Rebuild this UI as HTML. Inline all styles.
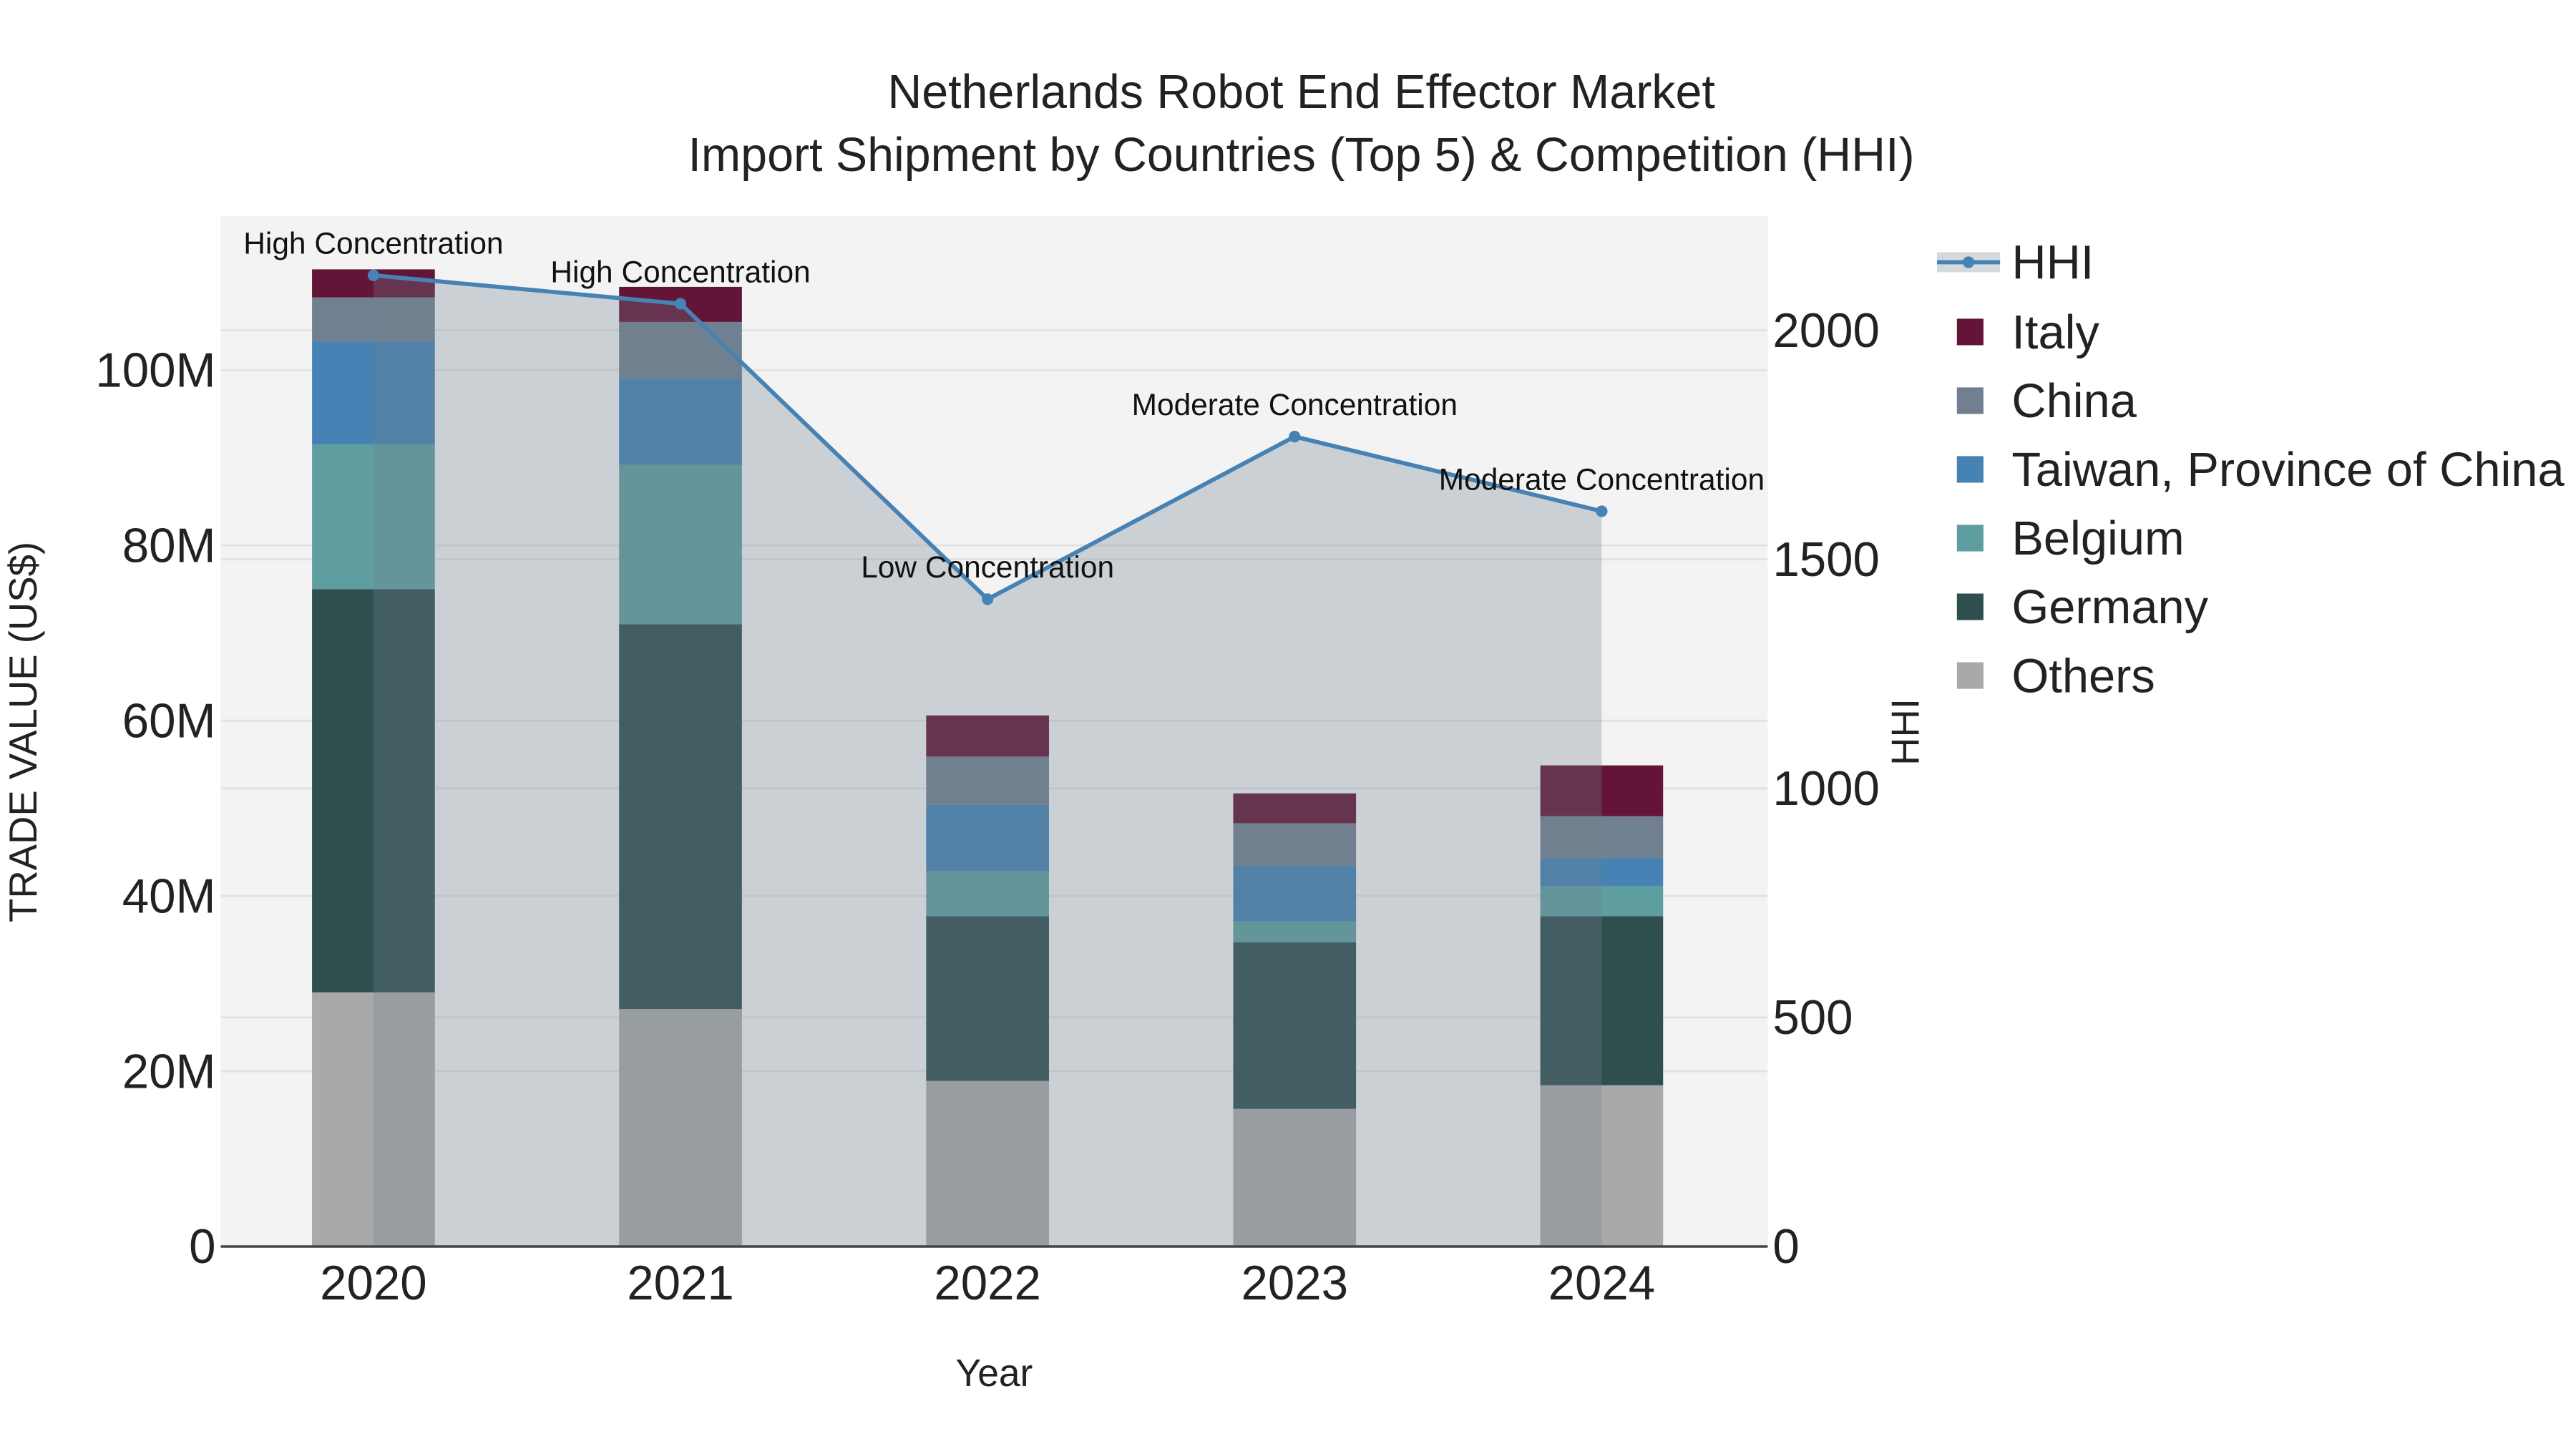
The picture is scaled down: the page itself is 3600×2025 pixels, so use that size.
<!DOCTYPE html>
<html><head><meta charset="utf-8"><style>html,body{margin:0;padding:0;background:#fff}svg{display:block;font-family:"Liberation Sans",Arial,sans-serif}</style></head>
<body>
<svg id="chart" width="3600" height="2025" viewBox="0 0 1552 873" xmlns="http://www.w3.org/2000/svg">
<rect x="0" y="0" width="1552" height="873" fill="#fff"/>
<rect x="133" y="130" width="932" height="621" fill="#f3f3f3"/>
<g id="grid"></g>
<g id="bars"></g>
<g id="hhi"></g>
<g id="axes"></g>
<text x="784" y="65" text-anchor="middle" font-size="28.6" fill="#222">Netherlands Robot End Effector Market</text>
<text x="784" y="103" text-anchor="middle" font-size="28.6" fill="#222">Import Shipment by Countries (Top 5) &amp; Competition (HHI)</text>
<text x="599" y="835" text-anchor="middle" font-size="23" fill="#222">Year</text>
<text transform="translate(22,441) rotate(-90)" text-anchor="middle" font-size="23.5" fill="#222">TRADE VALUE (US$)</text>
<text transform="translate(1156,441) rotate(-90)" text-anchor="middle" font-size="23.5" fill="#222">HHI</text>
<g id="legend"></g>
</svg>
<script>
const years = ["2020","2021","2022","2023","2024"];
const seriesNames = ["Others","Germany","Belgium","Taiwan, Province of China","China","Italy"];
const others = [29, 27.1, 18.9, 15.7, 18.4];
const germany = [46, 43.9, 18.8, 19.0, 19.3];
const belgium = [16.5, 18.2, 5.1, 2.4, 3.4];
const taiwan = [11.8, 9.8, 7.6, 6.3, 3.2];
const china = [5.0, 6.5, 5.5, 4.9, 4.8];
const italy = [3.2, 4.0, 4.7, 3.4, 5.8];
const hhi = [2120, 2058, 1413, 1768, 1605];
const hhiLabels = ["High Concentration","High Concentration","Low Concentration","Moderate Concentration","Moderate Concentration"];
const leftTicks = [0,20,40,60,80,100];
const leftTickLabels = ["0","20M","40M","60M","80M","100M"];
const rightTicks = [0,500,1000,1500,2000];
const colors = ["#a9a9a9","#2f4f4f","#5f9ea0","#4682b4","#708090","#641436"];
const NS="http://www.w3.org/2000/svg";
const X0=133,X1=1065,Y0=751,Y1=130;
const yL = v => Y0 - v*5.28;
const yR = v => Y0 - v*0.276;
const xC = i => 225 + 185*i;
const BW = 74;
function mk(tag, attrs, parent){const e=document.createElementNS(NS,tag);for(const k in attrs)e.setAttribute(k,attrs[k]);parent.appendChild(e);return e;}
const grid=document.getElementById('grid');
leftTicks.forEach(t=>{if(t===0)return;const l=mk('line',{x1:X0,x2:X1,y1:yL(t),y2:yL(t),stroke:"#e2e2e2","stroke-width":1.2},grid);

});
rightTicks.forEach(t=>{if(t===0)return;const l=mk('line',{x1:X0,x2:X1,y1:yR(t),y2:yR(t),stroke:"#e2e2e2","stroke-width":1.2},grid);

});
const bars=document.getElementById('bars');
const all=[others,germany,belgium,taiwan,china,italy];
years.forEach((y,i)=>{let base=0;all.forEach((s,k)=>{const top=base+s[i];
const r=mk('rect',{x:xC(i)-BW/2,y:yL(top),width:BW,height:yL(base)-yL(top),fill:colors[k]},bars);


base=top;});});
const hg=document.getElementById('hhi');
let pts=hhi.map((v,i)=>xC(i)+","+yR(v)).join(" ");
const area=mk('polygon',{points:xC(0)+","+Y0+" "+pts+" "+xC(hhi.length-1)+","+Y0,fill:"rgba(112,128,144,0.3)"},hg);


const line=mk('polyline',{points:pts,fill:"none",stroke:"#4682b4","stroke-width":2.5},hg);


hhi.forEach((v,i)=>{const c=mk('circle',{cx:xC(i),cy:yR(v),r:3.5,fill:"#4682b4"},hg);


const t=mk('text',{x:xC(i),y:yR(v)-13,"text-anchor":"middle","font-size":18.3,fill:"#111"},hg);t.textContent=hhiLabels[i];

});
const ax=document.getElementById('axes');
const zl=mk('line',{x1:X0,x2:X1,y1:Y0,y2:Y0,stroke:"#444","stroke-width":1.5},ax);


leftTicks.forEach((t,i)=>{const e=mk('text',{x:130,y:yL(t)+10,"text-anchor":"end","font-size":29,fill:"#222"},ax);e.textContent=leftTickLabels[i];

});
rightTicks.forEach(t=>{const e=mk('text',{x:1068,y:yR(t)+10,"text-anchor":"start","font-size":29,fill:"#222"},ax);e.textContent=String(t);

});
years.forEach((y,i)=>{const e=mk('text',{x:xC(i),y:783,"text-anchor":"middle","font-size":29,fill:"#222"},ax);e.textContent=y;

});
const lg=document.getElementById('legend');
const ll=mk('rect',{x:1167,y:152,width:38,height:12,fill:"rgba(112,128,144,0.3)"},lg);


mk('line',{x1:1167,x2:1205,y1:158,y2:158,stroke:"#4682b4","stroke-width":2.5},lg);
mk('circle',{cx:1186,cy:158,r:3.5,fill:"#4682b4"},lg);
const lt=mk('text',{x:1212,y:168,"font-size":28.8,fill:"#222"},lg);lt.textContent="HHI";


const order=[5,4,3,2,1,0];
order.forEach((k,j)=>{const yy=200+j*41.4;
const s=mk('rect',{x:1179,y:yy-8,width:16,height:16,fill:colors[k]},lg);


const t=mk('text',{x:1212,y:yy+10,"font-size":28.8,fill:"#222"},lg);t.textContent=seriesNames[k];

});
</script>
</body></html>
